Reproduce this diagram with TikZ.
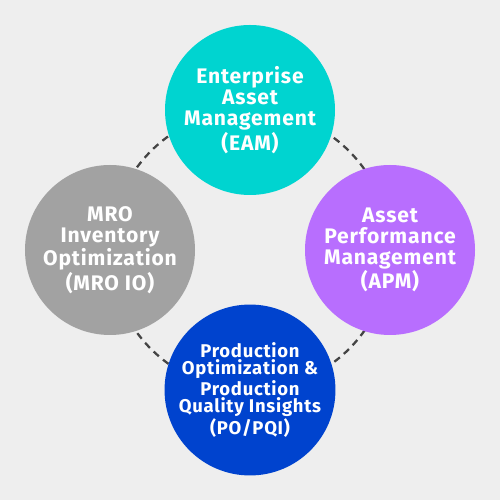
\documentclass[tikz,border=0pt]{standalone}
\usepackage{fontspec}
\setmainfont{Fira Sans}[LetterSpace=4]
\usetikzlibrary{
  positioning
}
\definecolor{bg}{HTML}{EEEEEE}
\definecolor{teal}{HTML}{00D4D0}
\definecolor{violet}{HTML}{B86EFE}
\definecolor{royal}{HTML}{0043CE}
\definecolor{stone}{HTML}{A2A2A2}
\definecolor{ring}{HTML}{444444}
\tikzset{
  % For the four filled discs.
  disc/.style={
    circle,
    minimum size=3.4cm,
    inner sep=0pt,
    outer sep=0pt,
    text=white,
    align=center,
    font=\fontsize{12pt}{11.9pt}\selectfont\bfseries},
%
  % For the smaller text of the bottom disc.
  small text/.style={
    font=\fontsize{10.5pt}{9.9pt}\selectfont\bfseries},
%
  % For the dashed ring behind the discs.
  dashed line/.style={
    line width=1.3pt,
    draw=ring,
    dash pattern=on 4pt off 3pt}
}
\begin{document}
\begin{tikzpicture}
  \fill[bg] (-5,-5) rectangle (5,5);
  \useasboundingbox (-5,-5) rectangle (5,5);

  \coordinate (middle) at (0,0);
  \draw[dashed line] (middle) circle (2.8);

  \node[disc, fill=teal] (eam) at (0,2.8)
    {Enterprise\\Asset\\Management\\(EAM)};
  \node[disc, fill=violet] (apm) at (2.8,0)
    {Asset\\Performance\\Management\\(APM)};
  \node[disc, fill=royal, small text] (popqi) at (0,-2.8)
    {Production\\Optimization \&\\Production\\Quality Insights\\(PO/PQI)};
  \node[disc, fill=stone] (mroio) at (-2.8,0)
    {MRO\\Inventory\\Optimization\\(MRO IO)};
\end{tikzpicture}
\end{document}
